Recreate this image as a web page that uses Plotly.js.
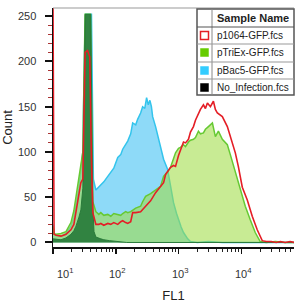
<!DOCTYPE html>
<html><head><meta charset="utf-8">
<script src="https://cdn.plot.ly/plotly-3.0.1.min.js"></script>
<style>html,body{margin:0;padding:0;background:#fff}#chart{width:295px;height:303px}</style>
</head><body><div id="chart"></div>
<script>
// ---- data (FL1 value, count) ----
const p1064X = [10,10.4,11.2,13.4,16.1,19.3,21.5,23.2,25.9,27.8,29.9,31.2,32.5,35.5,38.5,41,43.1,48.2,53.7,57.8,64.5,74.6,83.3,93,107.6,120,129,144,155,173,186,208,249,299,359,431,518,578,622,669,746,833,896,1000,1076,1200,1291,1441,1550,1730,1862,2077,2235,2494,2683,2887,3222,3596,3867,4160,4990,5995,7197,8035,8970,10380,12460,14950,17950,21550,25000,30000,36000,42000,50000,60000,70000];
const p1064Y = [265,9,8,7,9,14,20,33,55,66,70,150,210,212,205,90,33,20,20,21,19,21,20,22,20,23,24,22,21,23,33,33,34,40,46,55,62,66,75,78,83,85,84,96,103,111,110,114,122,128,135,143,147,152,148,154,150,156,147,143,139,128,110,99,84,61,47,29,14,2,1,1,0,1,0,1,0];

const pTriExX = [10,10.4,11.2,13.4,16.1,19.3,21.5,23.2,25.9,27.8,29.9,31.5,32.5,39.5,41,43.1,48.2,53.7,57.8,64.5,74.6,83.3,93,107.6,120,129,144,155,173,208,249,268,299,359,431,518,578,669,746,833,896,1000,1076,1200,1291,1441,1550,1730,1862,2077,2235,2494,2683,2995,3222,3467,3867,4318,4990,5995,6690,8035,9650,11580,13900,16690,20030,25000,35000,50000,70000];
const pTriExY = [18,10,9,10,12,22,35,50,75,84,100,200,252,252,160,45,34,31,33,30,31,29,32,31,30,32,34,33,34,38,40,45,51,54,58,62,73,78,83,92,99,104,105,108,106,111,113,114,116,123,120,121,125,128,130,132,117,123,114,108,97,77,58,40,25,11,1,0,1,0,0];

const pBac5X = [10,10.4,11.2,13.4,16.1,19.3,21.5,23.2,25.9,27.8,29.9,31.5,33,41,42.5,44,48.2,53.7,57.8,64.5,74.6,83.3,93,107.6,120,129,144,155,173,186,208,223,249,268,290,310,330,350,370,387,431,481,518,578,669,746,833,930,1000,1100,1200,1400,1550,2000,3000,5000,70000];
const pBac5Y = [20,9,8,7,10,18,28,40,60,80,100,200,252,252,150,70,58,61,64,67,73,77,82,94,97,103,108,112,120,132,130,136,143,150,148,160,152,157,150,139,128,114,105,92,81,62,44,32,25,17,11,4,1,0,1,0,0];

const noInfX = [10,13.4,16.1,19.3,21.5,23.2,25.9,27.8,29.9,31.5,32.5,40,41.5,43.1,45,48.2,57.8,64.5,80,100,150,70000];
const noInfY = [4,3,5,9,13,18,28,36,60,180,252,252,150,40,12,6,4,3,2,1,0,0];

const sampleNames = ['p1064-GFP.fcs','pTriEx-GFP.fcs','pBac5-GFP.fcs','No_Infection.fcs'];
const xTickVals = [10,100,1000,10000];
const xTickText = ['10<sup>1</sup>','10<sup>2</sup>','10<sup>3</sup>','10<sup>4</sup>'];
const yTickVals = [0,50,100,150,200,250];

// ---- styles ----
const swatchFill = ['#ffffff','#66cc00','#33ccff','#000000'];
const swatchLine = ['#e41e26','#66cc00','#33ccff','#000000'];

const traces = [
  {x:pBac5X, y:pBac5Y, type:'scatter', mode:'lines', fill:'tozeroy',
   line:{color:'#33c4ec', width:1.5}, fillcolor:'rgba(110,208,246,0.78)', name:sampleNames[2]},
  {x:pTriExX, y:pTriExY, type:'scatter', mode:'lines', fill:'tozeroy',
   line:{color:'#66c933', width:1.5}, fillcolor:'rgba(160,220,70,0.58)', name:sampleNames[1]},
  {x:noInfX, y:noInfY, type:'scatter', mode:'lines', fill:'tozeroy',
   line:{color:'#2a7a3a', width:1}, fillcolor:'rgba(30,115,50,0.85)', name:sampleNames[3]},
  {x:p1064X, y:p1064Y, type:'scatter', mode:'lines',
   line:{color:'#e41e26', width:1.6}, name:sampleNames[0]}
];

const L = 53, T = 8, W = 241, H = 239;
const px = x => (x - L) / W;
const py = y => (T + H - y) / H;

const shapes = [
  {type:'line', xref:'paper', yref:'paper', x0:0, x1:1, y0:1, y1:1, line:{color:'#999', width:1}},
  {type:'rect', xref:'paper', yref:'paper', x0:px(197), x1:px(294), y0:py(95), y1:py(9),
   fillcolor:'#fff', line:{color:'#555', width:1.5}},
  {type:'line', xref:'paper', yref:'paper', x0:px(212), x1:px(212), y0:py(95), y1:py(9), line:{color:'#888', width:1}},
  {type:'line', xref:'paper', yref:'paper', x0:px(197), x1:px(294), y0:py(27), y1:py(27), line:{color:'#555', width:1.2}}
];
const rowTops = [27,44,62,79];
const rowH = 17;
const annotations = [
  {xref:'paper', yref:'paper', x:px(253), y:py(18), text:'<b>Sample Name</b>', showarrow:false,
   xanchor:'center', yanchor:'middle', font:{size:11, color:'#222'}}
];
sampleNames.forEach((n, i) => {
  const cy = rowTops[i] + rowH / 2;
  if (i > 0) shapes.push({type:'line', xref:'paper', yref:'paper', x0:px(197), x1:px(294),
    y0:py(rowTops[i]), y1:py(rowTops[i]), line:{color:'#999', width:1}});
  shapes.push({type:'rect', xref:'paper', yref:'paper', x0:px(200.5), x1:px(208.5), y0:py(cy+4), y1:py(cy-4),
    fillcolor:swatchFill[i], line:{color:swatchLine[i], width:i===0?1.5:0.5}});
  annotations.push({xref:'paper', yref:'paper', x:px(214.5), y:py(cy), text:n, showarrow:false,
    xanchor:'left', yanchor:'middle', font:{size:10, color:'#222'}});
});
// x tick labels as text placed under each decade tick
xTickVals.forEach((v, i) => {
  annotations.push({xref:'x', yref:'paper', x:Math.log10(v), y:0, text:xTickText[i], showarrow:false,
    xanchor:'center', yanchor:'middle', yshift:-26, xshift:i===0?12:2, font:{size:11, color:'#333'}});
});

const layout = {
  width:295, height:303,
  margin:{l:L, r:1, t:T, b:56},
  paper_bgcolor:'#fff', plot_bgcolor:'#fff',
  showlegend:false,
  font:{family:'Liberation Sans, Arial, sans-serif', color:'#222'},
  xaxis:{type:'log', range:[1,4.84], tickmode:'array', tickvals:xTickVals, showticklabels:false,
    ticks:'outside', ticklen:5, tickwidth:1.5, tickcolor:'#111',
    showline:true, linecolor:'#111', linewidth:1.5, showgrid:false, zeroline:false,
    minor:{ticks:'outside', ticklen:3, tickwidth:1, tickcolor:'#222', dtick:'D1', showgrid:false},
    title:{text:'FL1', font:{size:13, color:'#222'}, standoff:40}},
  yaxis:{range:[-5,259], tickmode:'array', tickvals:yTickVals,
    ticks:'outside', ticklen:7, tickwidth:2, tickcolor:'#111',
    showline:true, linecolor:'#111', linewidth:1.5, showgrid:false, zeroline:false,
    tickfont:{size:11, color:'#333'}, ticklabelstandoff:6,
    minor:{ticks:'outside', ticklen:4, tickwidth:1, tickcolor:'#a33', dtick:10, tick0:0, showgrid:false},
    title:{text:'Count', font:{size:13, color:'#222'}, standoff:3}},
  shapes:shapes,
  annotations:annotations
};

Plotly.newPlot('chart', traces, layout, {staticPlot:true, displayModeBar:false});
</script>
</body></html>
